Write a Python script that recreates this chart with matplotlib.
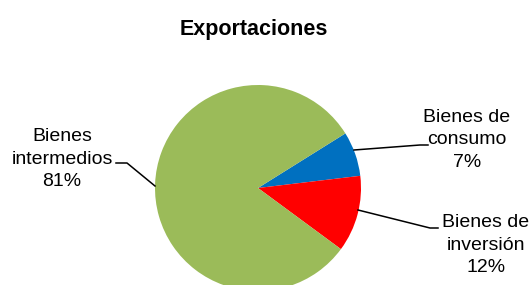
import matplotlib

matplotlib.use("Agg")
import matplotlib.pyplot as plt

# datos del gráfico (orden en sentido horario desde el sector azul)
categorias = ["Bienes de\nconsumo", "Bienes de\ninversión", "Bienes\nintermedios"]
porcentajes = [7, 12, 81]
colores = ["#0070C0", "#FF0000", "#9BBB59"]
titulo = "Exportaciones"

W, H = 531, 285
plt.rcParams["font.family"] = ["Liberation Sans", "DejaVu Sans"]

fig = plt.figure(figsize=(W / 100, H / 100), dpi=100)
ax = fig.add_axes([0, 0, 1, 1])

# coordenadas en píxeles con y hacia arriba (data y = H - pixel y)
cx, cy, r = 258, H - 188, 103
ax.pie(porcentajes, colors=colores, startangle=32, counterclock=False,
       center=(cx, cy), radius=r, frame=True,
       wedgeprops={"linewidth": 0})
ax.set_xlim(0, W)
ax.set_ylim(0, H)
ax.set_aspect("equal")
ax.axis("off")

ax.text(254, H - 29, titulo, ha="center", va="center",
        fontsize=15.5, fontweight="bold")

etiquetas = [f"{c}\n{p}%" for c, p in zip(categorias, porcentajes)]
pos_texto = [(467, H - 140), (486, H - 245), (62, H - 159)]
guias = [
    [(354, 150), (420, 145), (428, 145)],
    [(358, 210), (430, 228), (438, 228)],
    [(155, 186), (127, 163), (116, 163)],
]
for txt, (tx, ty), guia in zip(etiquetas, pos_texto, guias):
    ax.text(tx, ty, txt, ha="center", va="center", fontsize=14,
            linespacing=1.45)
    xs = [p[0] for p in guia]
    ys = [H - p[1] for p in guia]
    ax.plot(xs, ys, color="black", linewidth=1.1)

fig.savefig("out.png", dpi=100)
